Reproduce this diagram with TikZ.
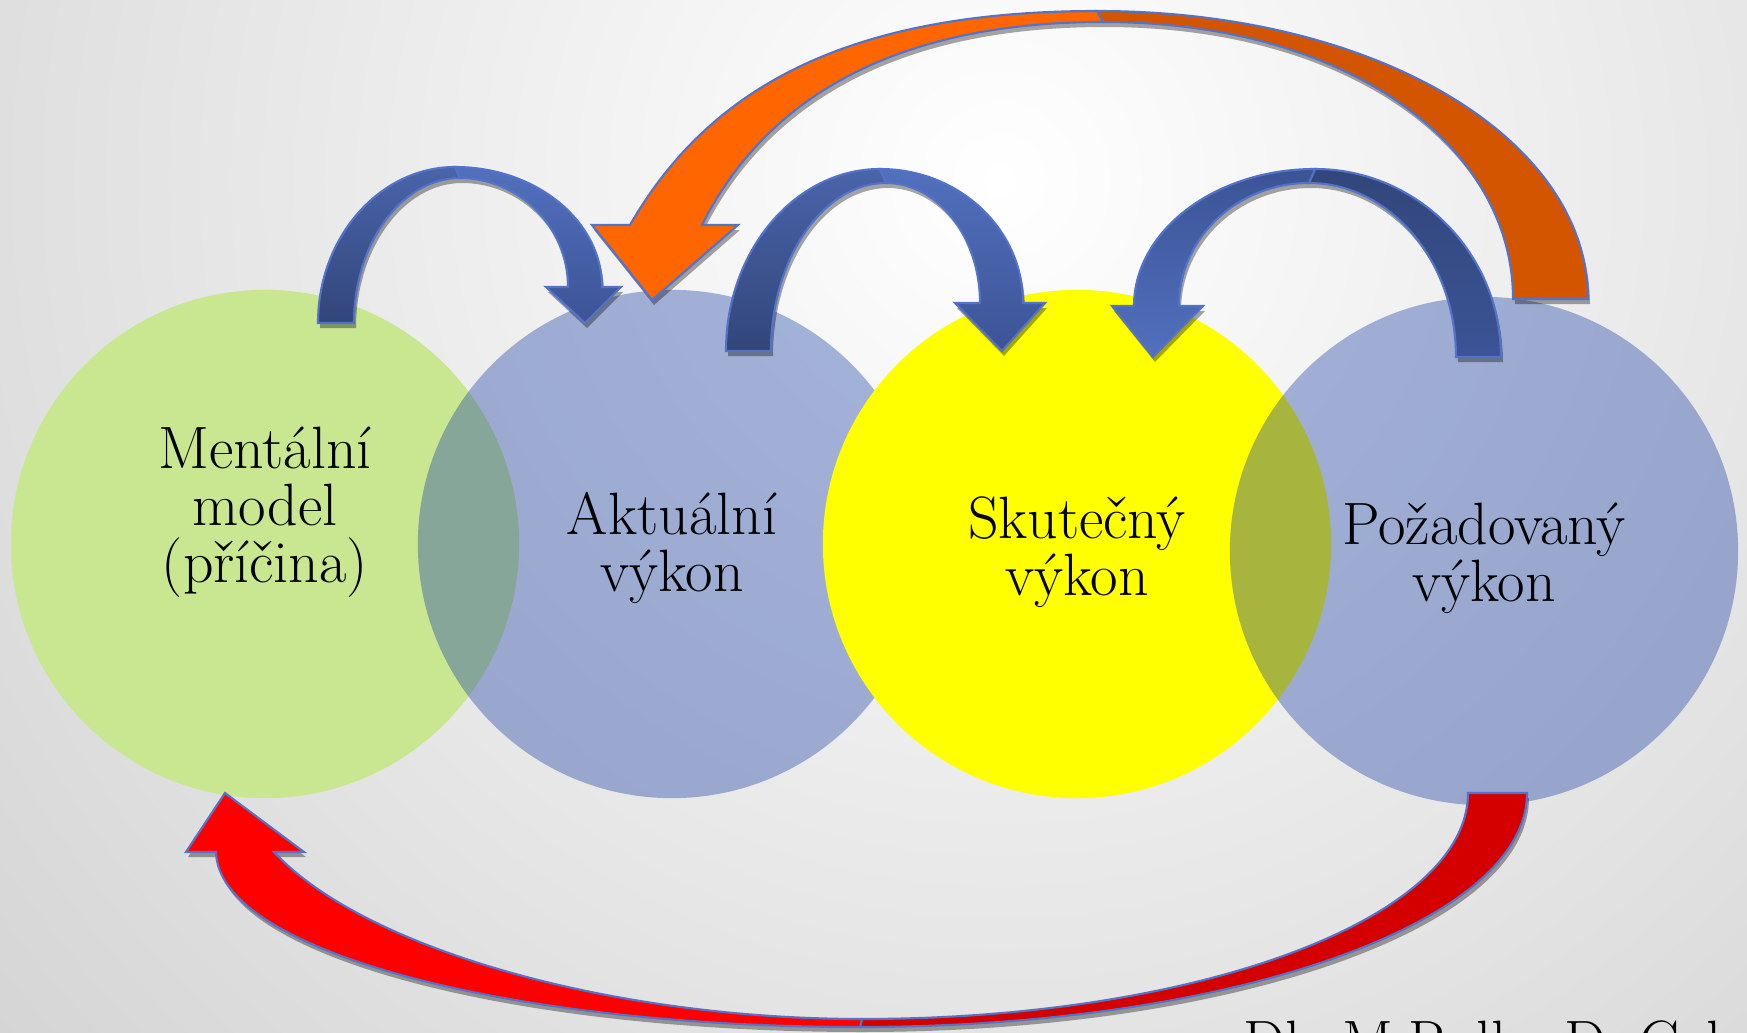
\documentclass[tikz,border=0pt]{standalone}
\definecolor{bggray}{RGB}{212,212,212}
\definecolor{greendisc}{RGB}{201,230,145}
\definecolor{bluedisc}{RGB}{26,63,168}
\definecolor{yellowdisc}{RGB}{255,255,0}
\definecolor{rimblue}{RGB}{84,114,200}
\definecolor{backtop}{RGB}{74,100,170}
\definecolor{backbot}{RGB}{50,70,122}
\definecolor{fronttop}{RGB}{82,112,190}
\definecolor{frontbot}{RGB}{60,84,150}
\definecolor{orangefront}{RGB}{255,102,0}
\definecolor{orangeback}{RGB}{212,85,0}
\definecolor{redfront}{RGB}{255,0,0}
\definecolor{redback}{RGB}{212,0,0}

% faces of the block arrows (pixel coordinates, y pointing down)
\newcommand{\mentaktBack}{(318,323) .. controls +(0,-86) and +(-75,0) .. (455,167)
  -- (460,178) .. controls +(-58,0) and +(0,-80) .. (354,323) -- cycle}
\newcommand{\mentaktFront}{(455,167) .. controls +(81,0) and +(0,-66) .. (602,287)
  -- (621,287) -- (585,323) -- (546,287) -- (568,287)
  .. controls +(0,-60) and +(59,0) .. (460,178) -- cycle}
\newcommand{\aktskutBack}{(726,351) .. controls +(0,-100) and +(-85,0) .. (880,169)
  -- (886,183) .. controls +(-63,0) and +(0,-92) .. (771,351) -- cycle}
\newcommand{\aktskutFront}{(880,169) .. controls +(79,0) and +(0,-74) .. (1023,303)
  -- (1045,303) -- (1002,351) -- (955,303) -- (980,303)
  .. controls +(0,-66) and +(52,0) .. (886,183) -- cycle}
\newcommand{\pozskutBack}{(1501,357) .. controls +(0,-104) and +(102,0) .. (1315,169)
  -- (1309,183) .. controls +(81,0) and +(0,-96) .. (1456,357) -- cycle}
\newcommand{\pozskutFront}{(1315,169) .. controls +(-100,0) and +(0,-75) .. (1134,306)
  -- (1112,306) -- (1153,357) -- (1203,306) -- (1179,306)
  .. controls +(0,-68) and +(-72,0) .. (1309,183) -- cycle}
\newcommand{\pozaktBack}{(1588,299) .. controls (1588,139) and (1377,11) .. (1097,11)
  -- (1103,22) .. controls (1353,22) and (1513,149) .. (1513,299) -- cycle}
\newcommand{\pozaktFront}{(1097,11) .. controls (837,11) and (705,95) .. (630,225)
  -- (592,225) -- (652,300) -- (738,225) -- (702,225)
  .. controls (757,115) and (873,22) .. (1103,22) -- cycle}
\newcommand{\pozmentBack}{(1527,793) .. controls (1527,924) and (1228,1027) .. (860,1027)
  -- (862,1019) .. controls (1197,1019) and (1468,919) .. (1468,793) -- cycle}
\newcommand{\pozmentFront}{(860,1027) .. controls (505,1027) and (218,950) .. (216,852)
  -- (186,852) -- (225,793) -- (304,852) -- (274,852)
  .. controls (364,949) and (612,1019) .. (862,1019) -- cycle}

\begin{document}
\begin{tikzpicture}[x=0.01cm, y=-0.01cm,
  disc/.style={circle, inner sep=0pt, minimum size=5.08cm},
  lbl/.style={align=center, font=\fontsize{17}{16.2}\selectfont},
  rim/.style={draw=rimblue, line width=0.6pt},
  shadow/.style={fill=black, fill opacity=0.35, shift={(2,5)}},
  backface/.style={rim, top color=backtop, bottom color=backbot},
  frontface/.style={rim, top color=fronttop, bottom color=frontbot}]

  \useasboundingbox (0,0) rectangle (1747,1033);
  \clip (0,0) rectangle (1747,1033);
  \fill[bggray] (0,0) rectangle (1747,1033);
  \shade[inner color=white, outer color=bggray] (1000,180) circle (1350);

  % circles
  \node[disc, fill=greendisc] (ment) at (265,544) {};
  \node[disc, fill=bluedisc, fill opacity=0.38] (akt) at (672,544) {};
  \node[disc, fill=yellowdisc] (skut) at (1077,544) {};
  \node[disc, fill=bluedisc, fill opacity=0.38] (pozad) at (1484,551) {};

  % blue arrows
  \fill[shadow] \mentaktBack \mentaktFront;
  \shade[backface] \mentaktBack;
  \shade[frontface] \mentaktFront;

  \fill[shadow] \aktskutBack \aktskutFront;
  \shade[backface] \aktskutBack;
  \shade[frontface] \aktskutFront;

  \fill[shadow] \pozskutBack \pozskutFront;
  \shade[backface, top color=backbot, bottom color=frontbot] \pozskutBack;
  \shade[frontface, top color=frontbot, bottom color=fronttop] \pozskutFront;

  % orange arrow
  \fill[shadow] \pozaktBack \pozaktFront;
  \fill[rim, fill=orangeback] \pozaktBack;
  \fill[rim, fill=orangefront] \pozaktFront;

  % red arrow
  \fill[shadow] \pozmentBack \pozmentFront;
  \fill[rim, fill=redback] \pozmentBack;
  \fill[rim, fill=redfront] \pozmentFront;

  % labels
  \node[lbl] (mentlbl) at (265,512) {Mentální\\model\\(příčina)};
  \node[lbl] (aktlbl) at (672,548) {Aktuální\\výkon};
  \node[lbl] (skutlbl) at (1077,552) {Skutečný\\výkon};
  \node[lbl] (pozlbl) at (1484,558) {Požadovaný\\výkon};

  \node[lbl, anchor=base west] (source) at (1231,1062) {Dle M.Rolly, D. Gel};
\end{tikzpicture}
\end{document}
